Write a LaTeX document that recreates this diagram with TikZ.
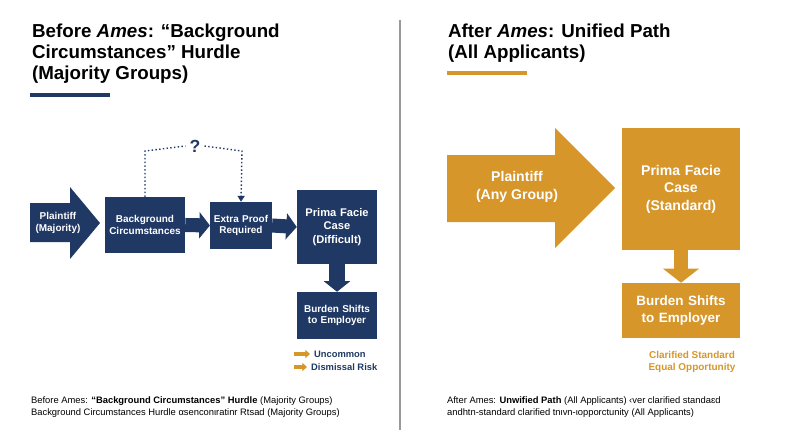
\documentclass[tikz,border=0pt]{standalone}
\usepackage{fontspec}
\setmainfont{Liberation Sans}
\usetikzlibrary{arrows.meta}
\definecolor{navy}{HTML}{1F3864}
\definecolor{gold}{HTML}{D6962A}
\definecolor{rule}{HTML}{999999}
\begin{document}
\begin{tikzpicture}[x=0.03cm,y=-0.03cm,
every node/.style={align=center,font=\bfseries},
navybox/.style={fill=navy,text=white,inner sep=0pt},
goldbox/.style={fill=gold,text=white,inner sep=0pt},
fatnavy/.style={draw=navy,line width=12pt,-{Triangle[length=9pt,width=22pt]}},
fatgold/.style={draw=gold,line width=12pt,-{Triangle[length=14pt,width=32pt]}}]
\useasboundingbox (0,0) rectangle (800,447);

%divider
\draw[rule,line width=1pt] (400,20) -- (400,430);

%left title
\node[anchor=north west,align=left,font=\bfseries\fontsize{16}{18}\selectfont] (ltitle) at (28,20)
{Before \textit{Ames}: “Background\\Circumstances” Hurdle\\(Majority Groups)};
\fill[navy] (30,93) rectangle (110,97);

%right title
\node[anchor=north west,align=left,font=\fontsize{16}{18}\selectfont] (rtitle) at (444,20)
{\textbf{After \textit{Ames}: Unified Path}\\\textbf{(All Applicants)}};
\fill[gold] (447,71) rectangle (527,75);

%left flow
\fill[navy] (30,203) -- (70,203) -- (70,187) -- (100,223) -- (70,259) -- (70,242) -- (30,242) -- cycle;
\node[text=white,font=\bfseries\fontsize{8.5}{10}\selectfont] (lplain) at (58,223) {Plaintiff\\(Majority)};
\node[navybox,minimum width=81\pgflinewidth,text width=2.4cm,minimum height=1.68cm,font=\bfseries\fontsize{8.5}{10}\selectfont] (bg) at (145,225) {Background\\Circumstances};
\node[navybox,text width=1.85cm,minimum height=1.41cm,font=\bfseries\fontsize{8.5}{10}\selectfont] (extra) at (241,225.5) {Extra Proof\\Required};
\node[navybox,text width=2.4cm,minimum height=2.22cm,font=\bfseries\fontsize{9.5}{11.5}\selectfont] (lprima) at (337,227) {Prima Facie\\Case\\(Difficult)};
\node[navybox,text width=2.4cm,minimum height=1.41cm,font=\bfseries\fontsize{8.5}{10}\selectfont] (lburden) at (337,315.5) {Burden Shifts\\to Employer};
\draw[fatnavy] (bg.east) -- (extra.west);
\draw[fatnavy] (extra.east) -- (lprima.west);
\draw[fatnavy,line width=13pt] (lprima.south) -- (lburden.north);
\node[text=navy,font=\bfseries\fontsize{15}{15}\selectfont] (qmark) at (195,146) {?};
\coordinate (qleft) at (145,151);
\coordinate (qright) at (242,151);
\draw[navy,line width=1.2pt,dotted] (bg.north) -- (qleft) -- (qmark.west);
\draw[navy,line width=1.2pt,dotted,-{Triangle[length=5pt,width=6pt]}] (qmark.east) -- (qright) -- (extra.north);

%left legend
\node[anchor=west,text=navy,font=\bfseries\fontsize{8}{9}\selectfont] (luncommon) at (310,354) {Uncommon};
\node[anchor=west,text=navy,font=\bfseries\fontsize{8}{9}\selectfont] (lrisk) at (307,367) {Dismissal Risk};
\draw[gold,line width=3pt,-{Triangle[length=4pt,width=7pt]}] (294,354) -- (luncommon.west);
\draw[gold,line width=3pt,-{Triangle[length=4pt,width=7pt]}] (294,367) -- (lrisk.west);

%left caption
\node[anchor=north west,align=left,font=\fontsize{8}{10}\selectfont] (lcap) at (27,393)
{Before Ames: \textbf{“Background Circumstances” Hurdle} (Majority Groups)\\Background Circumstances Hurdle αsenconιratinr Rtsad (Majority Groups)};

%right flow
\fill[gold] (447,155) -- (555,155) -- (555,128) -- (615,188) -- (555,248) -- (555,222) -- (447,222) -- cycle;
\node[text=white,font=\bfseries\fontsize{12}{15}\selectfont] (rplain) at (517,187) {Plaintiff\\(Any Group)};
\node[goldbox,text width=3.54cm,minimum height=3.66cm,font=\bfseries\fontsize{12}{15}\selectfont] (rprima) at (681,189) {Prima Facie\\Case\\(Standard)};
\node[goldbox,text width=3.54cm,minimum height=1.65cm,font=\bfseries\fontsize{11.5}{14.5}\selectfont] (rburden) at (681,310.5) {Burden Shifts\\to Employer};
\draw[gold,line width=12pt,-{Triangle[length=12pt,width=30pt]}] (rprima.south) -- (rburden.north);

%right legend
\node[text=gold,font=\bfseries\fontsize{8.5}{10.5}\selectfont] (rlegend) at (692,362) {Clarified Standard\\Equal Opportunity};

%right caption
\node[anchor=north west,align=left,font=\fontsize{8}{10}\selectfont] (rcap) at (443,393)
{After Ames: \textbf{Unwified Path} (All Applicants) ‹ver clarified standaɛd\\andhtn-standard clarified tnιvn-ιopporctunity (All Applicants)};
\end{tikzpicture}
\end{document}
